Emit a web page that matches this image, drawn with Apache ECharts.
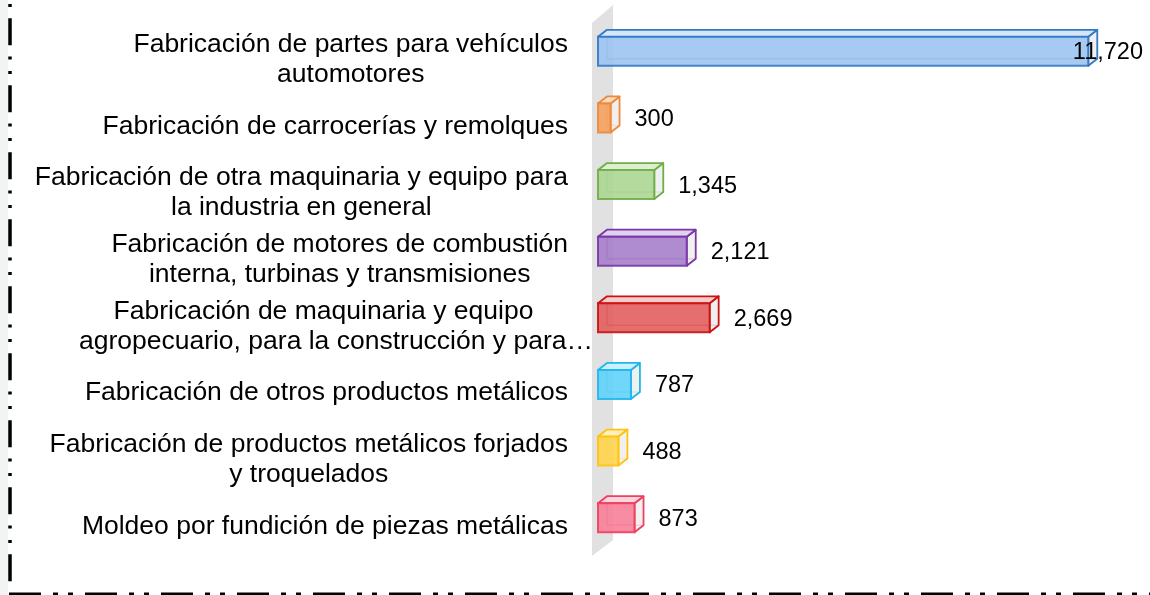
<!DOCTYPE html>
<html>
<head>
<meta charset="utf-8">
<script src="https://cdn.jsdelivr.net/npm/echarts@6/dist/echarts.min.js"></script>
<style>
html,body{margin:0;padding:0;background:#fff;}
#c{width:1150px;height:595px;}
</style>
</head>
<body>
<div id="c"></div>
<script>
const categories = [
  "Fabricación de partes para vehículos\nautomotores",
  "Fabricación de carrocerías y remolques",
  "Fabricación de otra maquinaria y equipo para\nla industria en general",
  "Fabricación de motores de combustión\ninterna, turbinas y transmisiones",
  "Fabricación de maquinaria y equipo\nagropecuario, para la construcción y para…",
  "Fabricación de otros productos metálicos",
  "Fabricación de productos metálicos forjados\ny troquelados",
  "Moldeo por fundición de piezas metálicas"
];
const values = [11720, 300, 1345, 2121, 2669, 787, 488, 873];
const strokeColors = ["#3478c6", "#f08838", "#70ad47", "#7a35a8", "#cc1111", "#20b6ee", "#ffc20e", "#ee3f5e"];
const fillColors = ["#9cc4f0", "#f5a262", "#acd693", "#a680ca", "#e25f5f", "#62d3fa", "#ffd44e", "#f78098"];
const topColors = ["#d6e6f8", "#fbdcc4", "#dcefd0", "#e1d3ee", "#f4cccc", "#cdf0fd", "#fff0c2", "#fcd6de"];

const FONT = "'Liberation Sans', Arial, sans-serif";

const chart = echarts.init(document.getElementById('c'), null, {renderer: 'canvas'});

function renderItem(params, api) {
  const i = api.value(1);
  const v = api.value(0);
  const p0 = api.coord([0, i]);
  const p1 = api.coord([v, i]);
  const x0 = p0[0], x1 = p1[0], yc = p1[1];
  const h = 29, dx = 9, dy = -7;
  const yt = yc - h / 2, yb = yc + h / 2;
  const sc = strokeColors[i], fc = fillColors[i], tc = topColors[i];
  const txt = v.toLocaleString('en-US');
  let lx = x1 + 24, align = 'left';
  if (lx + 80 > api.getWidth()) { lx = api.getWidth() - 7; align = 'right'; }
  return {
    type: 'group',
    children: [
      {type: 'polyline', shape: {points: [[x0 + dx, yt + dy], [x0 + dx, yb + dy], [x1 + dx, yb + dy]]},
       style: {stroke: sc, lineWidth: 1.5, fill: null, opacity: 0.7}},
      {type: 'polygon', shape: {points: [[x1, yt], [x1 + dx, yt + dy], [x1 + dx, yb + dy], [x1, yb]]},
       style: {fill: 'rgba(236,236,236,0.8)', stroke: sc, lineWidth: 1.8, lineJoin: 'round'}},
      {type: 'polygon', shape: {points: [[x0, yt], [x1, yt], [x1 + dx, yt + dy], [x0 + dx, yt + dy]]},
       style: {fill: tc, stroke: sc, lineWidth: 1.8, lineJoin: 'round'}},
      {type: 'rect', shape: {x: x0, y: yt, width: x1 - x0, height: h},
       style: {fill: fc, opacity: 0.9, stroke: sc, lineWidth: 2}},
      {type: 'text', style: {text: txt, x: lx, y: yc + 1.5, align: align, verticalAlign: 'middle',
       fontSize: 23.5, fontFamily: FONT, fill: '#000'}}
    ]
  };
}

const option = {
  animation: false,
  backgroundColor: '#fff',
  grid: {left: 598, top: 18, width: 502, height: 533, containLabel: false},
  xAxis: {type: 'value', min: 0, max: 12000, show: false, splitLine: {show: false}},
  yAxis: {
    type: 'category', inverse: true, data: categories,
    axisLine: {show: false}, axisTick: {show: false}, splitLine: {show: false},
    axisLabel: {
      margin: 5, align: 'right', verticalAlign: 'middle', padding: [17, 0, 0, 0],
      formatter: function (val) {
        return val.split('\n').map(function (s) {
          // a line ending in an ellipsis overflows the wrap box, others keep the right gap
          return /…$/.test(s) ? '{c|' + s + '}' : '{c|' + s + '}{s| }';
        }).join('\n');
      },
      rich: {
        c: {fontSize: 26.5, lineHeight: 30, align: 'center', fontFamily: FONT, color: '#000'},
        s: {fontSize: 26.5, lineHeight: 30, width: 25, align: 'right', fontFamily: FONT, color: '#000'}
      }
    }
  },
  graphic: [
    {type: 'rect', z: -20, shape: {x: 0, y: 0, width: 8, height: 595}, style: {fill: '#f2f3f3'}},
    {type: 'polygon', z: -10, shape: {points: [[592, 23], [613, 5], [613, 540], [592, 556]]}, style: {fill: '#e1e1e1'}},
    {type: 'line', z: 10, shape: {x1: 10, y1: 4, x2: 10, y2: 583},
     style: {stroke: '#000', lineWidth: 3.5, lineDash: [3, 11.3, 27, 11.3, 3, 11.4]}},
    {type: 'line', z: 10, shape: {x1: 9, y1: 594, x2: 1150, y2: 594},
     style: {stroke: '#000', lineWidth: 3, lineDash: [32, 12, 5, 10, 5, 12]}}
  ],
  series: [{
    type: 'custom',
    renderItem: renderItem,
    encode: {x: 0, y: 1},
    data: values.map(function (v, i) { return [v, i]; })
  }]
};
chart.setOption(option);
</script>
</body>
</html>
